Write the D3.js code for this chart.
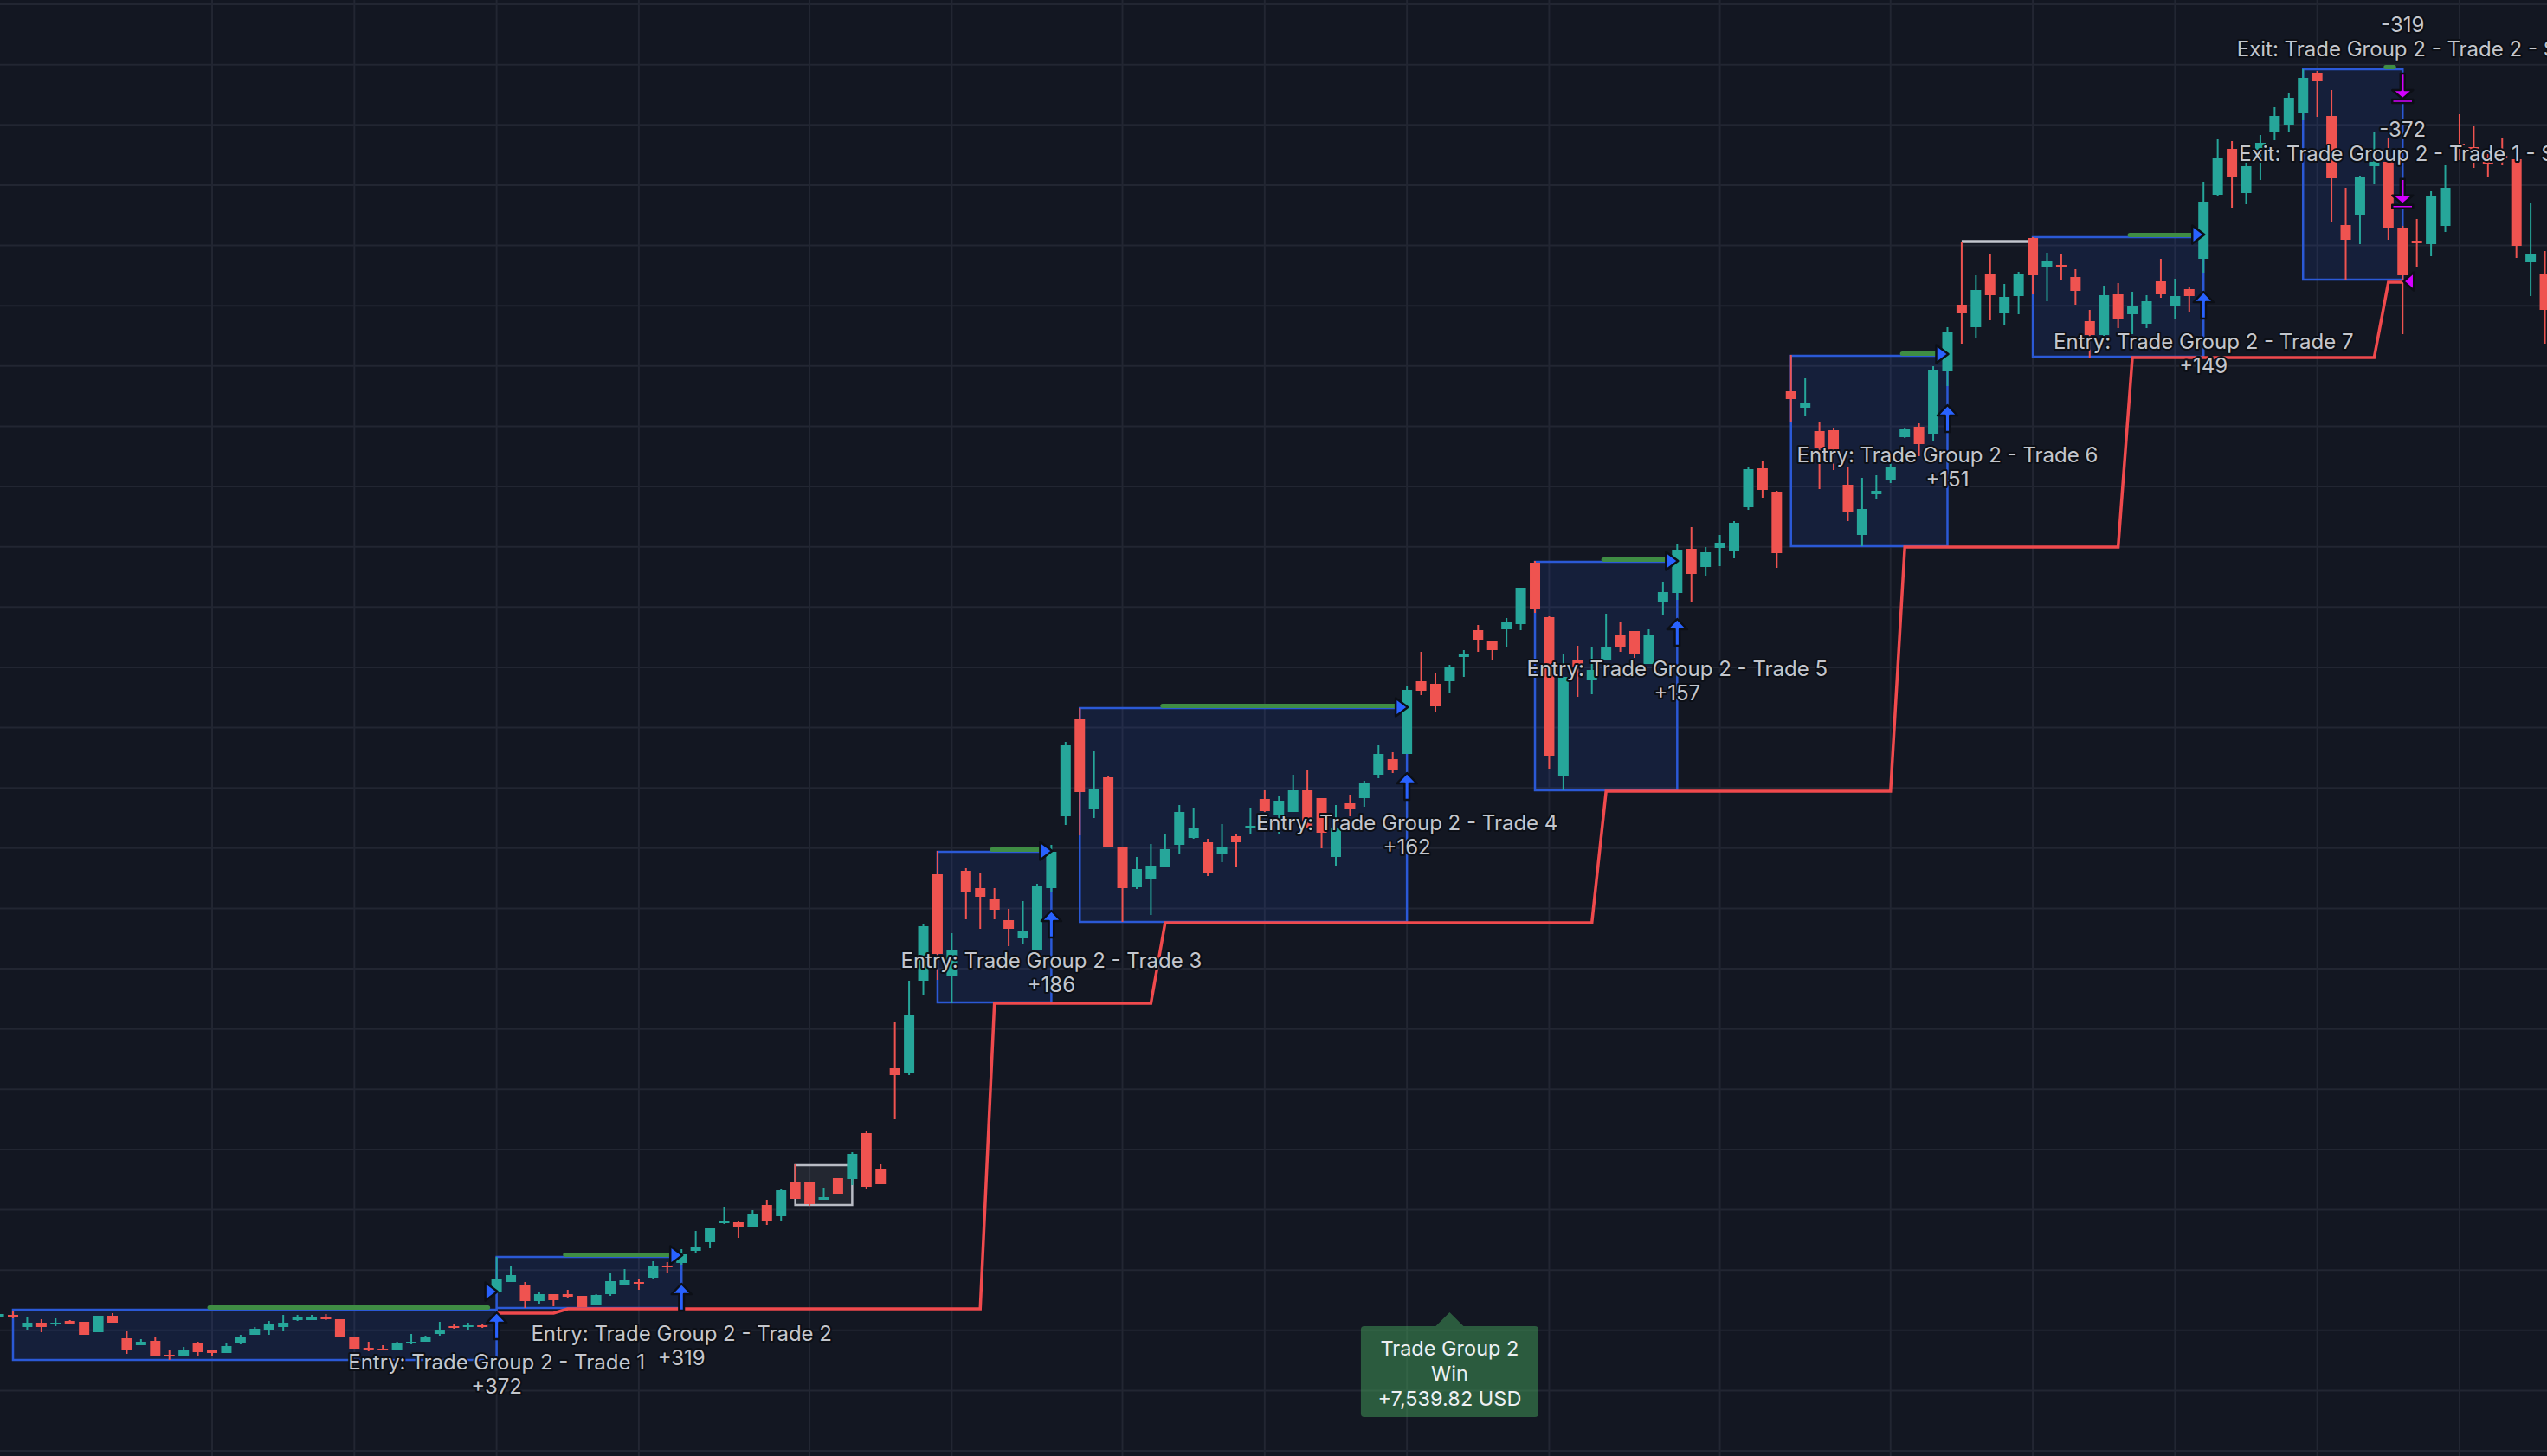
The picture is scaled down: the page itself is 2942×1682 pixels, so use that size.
<!DOCTYPE html>
<html>
<head>
<meta charset="utf-8">
<script src="https://cdn.jsdelivr.net/npm/d3@7"></script>
<style>
  html, body { margin: 0; padding: 0; background: #131722; }
  svg { display: block; }
</style>
</head>
<body>
<svg id="chart"></svg>
<script>
// bars start at index -1 (one partial bar at the left edge)
const firstBar = -1;
const opens = [
  160,163,149,154,152,156,155,143,162,136,
  128,133,117,116,130,122,119,130,140,146,
  149,157,157,160,158,137,125,124,123,130,
  132,141,150,149,151,189,201,197,179,187,
  187,185,174,187,198,201,206,220,223,237,
  247,269,270,265,290,277,317,317,296,321,
  320,373,331,448,443,549,672,555,676,656,
  643,619,598,584,656,739,851,747,784,703,
  657,666,680,706,714,709,695,716,725,759,
  741,744,769,760,692,754,760,787,805,811,
  895,892,895,923,954,941,955,961,1032,969,
  786,920,896,919,948,953,915,986,997,1048,
  1027,1049,1045,1096,1141,1114,1230,1211,1184,1185,
  1122,1064,1111,1127,1177,1189,1181,1253,1330,1304,
  1366,1320,1340,1407,1373,1376,1362,1311,1295,1342,
  1319,1308,1357,1329,1348,1383,1457,1510,1459,1509,
  1530,1538,1551,1598,1548,1422,1434,1490,1495,1419,
  1404,1400,1421,1516,1512,1495,1502,1498,1379,1365
];
const highs = [
  165,168,161,158,159,157,155,162,165,144,
  135,138,122,126,132,123,130,140,149,156,
  163,163,163,164,158,137,132,128,132,141,
  139,155,152,154,152,230,220,201,189,187,
  192,185,187,211,216,204,225,224,239,260,
  263,288,271,284,296,308,337,317,310,321,
  351,376,337,501,549,614,699,604,679,674,
  656,632,641,661,706,825,864,814,785,703,
  692,707,719,752,749,713,730,719,749,769,
  762,787,792,760,752,764,780,821,813,890,
  929,904,914,931,960,941,968,1003,1034,970,
  926,936,934,973,963,953,955,1010,1054,1073,
  1050,1064,1080,1142,1150,1115,1272,1245,1194,1188,
  1142,1130,1133,1148,1188,1193,1259,1304,1403,1364,
  1389,1354,1368,1408,1390,1389,1371,1324,1352,1355,
  1345,1341,1383,1360,1350,1472,1522,1519,1494,1526,
  1558,1574,1602,1600,1578,1465,1479,1530,1523,1421,
  1429,1461,1491,1550,1536,1504,1523,1498,1447,1392
];
const lows = [
  159,159,145,143,150,153,140,143,154,118,
  128,115,111,116,116,115,119,129,140,140,
  144,156,157,157,138,124,121,122,123,129,
  132,139,147,145,148,188,201,171,176,173,
  183,172,174,185,197,192,205,211,221,234,
  240,268,252,265,267,272,297,289,296,303,
  313,309,314,389,440,532,550,523,620,609,
  620,589,592,584,652,729,717,737,704,617,
  655,625,680,695,713,670,686,680,719,744,
  719,744,725,702,682,739,750,783,789,811,
  879,859,882,900,929,919,934,954,974,794,
  769,877,880,919,929,922,915,972,989,987,
  1017,1028,1037,1093,1107,1026,1194,1201,1117,1139,
  1080,1051,1106,1124,1176,1155,1173,1236,1285,1291,
  1312,1306,1319,1342,1334,1359,1330,1269,1290,1303,
  1296,1303,1338,1314,1322,1367,1455,1442,1446,1474,
  1520,1529,1543,1547,1425,1359,1400,1470,1405,1296,
  1373,1386,1414,1497,1488,1478,1491,1384,1340,1285
];
const closes = [
  164,160,154,149,154,153,140,162,154,123,
  132,115,115,123,120,119,127,137,147,152,
  154,160,160,158,138,124,122,122,131,132,
  137,146,148,151,149,205,209,179,187,180,
  184,172,186,202,203,199,220,218,233,241,
  263,271,264,280,271,307,297,291,299,303,
  349,311,314,440,510,612,580,585,652,646,
  631,609,607,658,698,821,767,771,704,656,
  678,682,701,744,726,673,704,709,728,745,
  757,769,725,720,725,748,778,811,793,885,
  884,866,912,926,943,931,963,1003,978,809,
  900,912,908,934,935,926,949,998,1047,1019,
  1044,1055,1078,1140,1116,1043,1221,1217,1165,1159,
  1090,1094,1115,1142,1186,1169,1255,1299,1320,1347,
  1341,1339,1366,1364,1380,1374,1346,1295,1341,1314,
  1328,1334,1342,1340,1340,1449,1499,1478,1490,1517,
  1548,1569,1592,1589,1476,1405,1477,1495,1419,1364,
  1401,1456,1465,1514,1509,1493,1499,1398,1389,1324
];

// consolidation boxes (the last one is the box the trades exit from)
const boxStart  = [0, 34, 65, 75, 107, 125, 142, 161];
const boxEnd    = [34, 47, 73, 98, 117, 136, 154, 168];
const boxTop    = [169, 230, 698, 864, 1033, 1271, 1408, 1602];
const boxBottom = [111, 171, 524, 617, 769, 1051, 1270, 1359];
const greenFrom = [14, 39, 69, 81, 112, 133, 149, 167];

// entries
const entryPrice = [190, 232, 699, 865, 1034, 1273, 1411];
const entryPnl   = ["+372", "+319", "+186", "+162", "+157", "+151", "+149"];

// trailing stop steps
const stopBars   = [34, 39, 69, 81, 112, 133, 149, 167];
const stopLevels = [165, 170, 523, 616, 768, 1050, 1269, 1356];
const stopEnd = 168;

// exits
const exitBar = 168;
const exitPrice = 1357;
const exitNames = ["Exit: Trade Group 2 - Trade 1 - SL", "Exit: Trade Group 2 - Trade 2 - SL"];
const exitPnl   = ["-372", "-319"];

// other drawings
const grayBox = {start: 55, end: 59, top: 336, bottom: 290};
const grayLine = {start: 137, end: 142, level: 1403};
const tipBar = 101, tipPrice = 166;
const tipLines = ["Trade Group 2", "Win", "+7,539.82 USD"];

// grid
const gridBars = [14, 24, 34, 44, 56, 66, 78, 88, 98, 108, 120, 132, 142, 152, 162, 172];
const gridPrices = d3.range(25).map(k => 1677 - k * 69.63);

const width = 2942, height = 1682;
const up = "#26a69a", down = "#ef5350";

const svg = d3.select("#chart")
    .attr("width", width)
    .attr("height", height)
    .attr("viewBox", [0, 0, width, height]);

svg.append("rect").attr("width", width).attr("height", height).attr("fill", "#131722");

const x = d3.scaleLinear([0, 178], [15, 15 + 178 * 16.43]);
const y = d3.scaleLinear([0, height], [height, 0]);

const bars = opens.map((o, k) => ({i: k + firstBar, o, h: highs[k], l: lows[k], c: closes[k]}));
const bar = i => bars[i - firstBar];

// grid lines
const grid = svg.append("g").attr("stroke", "#222632").attr("stroke-width", 2);
grid.selectAll("line.h").data(gridPrices).join("line").attr("class", "h")
    .attr("x1", 0).attr("x2", width)
    .attr("y1", d => y(d)).attr("y2", d => y(d));
grid.selectAll("line.v").data(gridBars).join("line").attr("class", "v")
    .attr("y1", 0).attr("y2", height)
    .attr("x1", d => x(d)).attr("x2", d => x(d));

// boxes
const boxes = boxStart.map((s, k) => ({s, e: boxEnd[k], top: boxTop[k], bot: boxBottom[k], g: greenFrom[k]}));
svg.append("g").selectAll("rect").data(boxes).join("rect")
    .attr("x", d => x(d.s)).attr("width", d => x(d.e) - x(d.s))
    .attr("y", d => y(d.top)).attr("height", d => y(d.bot) - y(d.top))
    .attr("fill", "rgba(41,98,255,0.11)")
    .attr("stroke", "#2b59d6")
    .attr("stroke-width", 2.5);

// gray box
svg.append("rect")
    .attr("x", x(grayBox.start)).attr("width", x(grayBox.end) - x(grayBox.start))
    .attr("y", y(grayBox.top)).attr("height", y(grayBox.bottom) - y(grayBox.top))
    .attr("fill", "rgba(255,255,255,0.07)")
    .attr("stroke", "#b9bcc5").attr("stroke-width", 2.5);

// trailing stop
const stopPts = [];
stopBars.forEach((b, k) => {
  const next = k + 1 < stopBars.length ? stopBars[k + 1] - 1 : stopEnd;
  stopPts.push([b, stopLevels[k]], [next, stopLevels[k]]);
});
svg.append("path")
    .attr("d", d3.line().x(d => x(d[0])).y(d => y(d[1]))(stopPts))
    .attr("fill", "none")
    .attr("stroke", "#f04a4d")
    .attr("stroke-width", 3.5);

// green bars on the box tops
svg.append("g").selectAll("line").data(boxes).join("line")
    .attr("x1", d => x(d.g) - 3).attr("x2", d => x(d.e) - 10)
    .attr("y1", d => y(d.top) - 2.5).attr("y2", d => y(d.top) - 2.5)
    .attr("stroke", "#3f8d44").attr("stroke-width", 5).attr("stroke-linecap", "round");

// gray line
svg.append("line")
    .attr("x1", x(grayLine.start)).attr("x2", x(grayLine.end))
    .attr("y1", y(grayLine.level)).attr("y2", y(grayLine.level))
    .attr("stroke", "#c3c6ce").attr("stroke-width", 3.5);

// candles
const candle = svg.append("g").selectAll("g").data(bars).join("g")
    .attr("fill", d => d.c >= d.o ? up : down)
    .attr("stroke", d => d.c >= d.o ? up : down);
candle.append("line")
    .attr("x1", d => x(d.i)).attr("x2", d => x(d.i))
    .attr("y1", d => y(d.h)).attr("y2", d => y(d.l))
    .attr("stroke-width", 2);
candle.append("rect")
    .attr("stroke", "none")
    .attr("x", d => x(d.i) - 6).attr("width", 12)
    .attr("y", d => y(Math.max(d.o, d.c)))
    .attr("height", d => Math.max(2, y(Math.min(d.o, d.c)) - y(Math.max(d.o, d.c))));

// entry markers
const entries = entryPrice.map((p, k) => ({bar: boxEnd[k], p, pnl: entryPnl[k], n: k + 1}));
const marks = svg.append("g").attr("stroke", "#0c0f16").attr("stroke-width", 2.5).attr("stroke-linejoin", "round");
marks.selectAll("path.tri").data(entries).join("path").attr("class", "tri")
    .attr("fill", "#2962ff")
    .attr("d", d => {
      const cx = x(d.bar), cy = y(d.p);
      return `M${cx + 1},${cy}L${cx - 13},${cy - 10.5}L${cx - 13},${cy + 10.5}Z`;
    });
marks.selectAll("path.arr").data(entries).join("path").attr("class", "arr")
    .attr("fill", "#2962ff")
    .attr("d", d => {
      const cx = x(d.bar), t = y(bar(d.bar).l) + 22;
      return `M${cx},${t}L${cx + 11.5},${t + 12}L${cx + 2.8},${t + 12}L${cx + 2.8},${t + 31}` +
             `L${cx - 2.8},${t + 31}L${cx - 2.8},${t + 12}L${cx - 11.5},${t + 12}Z`;
    });

// exit markers
const ex = x(exitBar), exHigh = y(bar(exitBar).h);
const exits = exitNames.map((n, k) => ({n, pnl: exitPnl[k], base: exHigh - 20.3 - k * 121.7}));
marks.selectAll("path.exit").data(exits).join("path").attr("class", "exit")
    .attr("fill", "#d400ff")
    .attr("d", d => {
      const b = d.base;
      return `M${ex - 2.5},${b - 34}L${ex + 2.5},${b - 34}L${ex + 2.5},${b - 15}L${ex + 12},${b - 15}` +
             `L${ex},${b - 4.7}L${ex - 12},${b - 15}L${ex - 2.5},${b - 15}Z` +
             `M${ex - 12},${b - 4}L${ex + 12},${b - 4}L${ex + 12},${b}L${ex - 12},${b}Z`;
    });
marks.append("path")
    .attr("fill", "#d400ff")
    .attr("d", `M${ex + 1},${y(exitPrice)}L${ex + 13},${y(exitPrice) - 10.5}L${ex + 13},${y(exitPrice) + 10.5}Z`);

// labels
const labelStyle = sel => sel
    .attr("font-family", "Inter, 'Noto Sans', sans-serif")
    .attr("font-size", 24)
    .attr("fill", "#c3c6cd")
    .attr("stroke", "#0c0f16")
    .attr("stroke-width", 4)
    .attr("stroke-linejoin", "round")
    .attr("paint-order", "stroke")
    .attr("text-anchor", "middle")
    .attr("dominant-baseline", "central");

const labels = svg.append("g");
entries.forEach(d => {
  const cx = x(d.bar), ly = y(bar(d.bar).l) + 79;
  labels.append("text").call(labelStyle).attr("x", cx).attr("y", ly)
      .text(`Entry: Trade Group 2 - Trade ${d.n}`);
  labels.append("text").call(labelStyle).attr("x", cx).attr("y", ly + 28).text(d.pnl);
});
exits.forEach(d => {
  labels.append("text").call(labelStyle).attr("x", ex).attr("y", d.base - 63).text(d.n);
  labels.append("text").call(labelStyle).attr("x", ex).attr("y", d.base - 91).text(d.pnl);
});

// result tooltip
const tx = x(tipBar), ty = y(tipPrice);
const tip = svg.append("g");
tip.append("path")
    .attr("d", `M${tx},${ty}L${tx + 16},${ty + 16}L${tx - 16},${ty + 16}Z`)
    .attr("fill", "rgba(67,160,90,0.5)");
tip.append("rect")
    .attr("x", tx - 102.5).attr("y", ty + 16)
    .attr("width", 205).attr("height", 105).attr("rx", 4)
    .attr("fill", "rgba(67,160,90,0.5)");
tip.selectAll("text").data(tipLines).join("text")
    .attr("x", tx).attr("y", (d, k) => ty + 41.7 + k * 28.7)
    .attr("font-family", "Inter, 'Noto Sans', sans-serif")
    .attr("font-size", 23.5)
    .attr("fill", "#eef0f2")
    .attr("text-anchor", "middle")
    .attr("dominant-baseline", "central")
    .text(d => d);
</script>
</body>
</html>
